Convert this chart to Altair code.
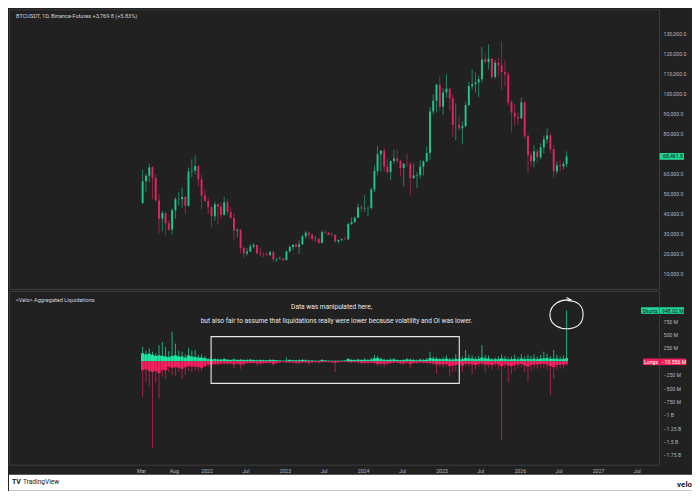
import altair as alt
import pandas as pd

# ---------------- values ----------------
# BTCUSDT candles, one per half month (1st / 16th), Mar 2021 .. Aug 2026, thousand USD
first_open_k = 45.0
high_k = [
    61.7, 60.0, 64.8, 63.5, 59.5, 49.7, 41.3, 41.0, 36.6, 42.3, 48.1, 50.5, 52.9, 48.8, 62.9, 67.0, 69.0, 64.0, 59.1, 52.0,
    47.9, 43.5, 45.8, 44.8, 45.4, 48.2, 47.2, 42.9, 40.0, 32.4, 31.9, 23.3, 22.5, 24.7, 25.2, 24.4, 22.8, 20.3, 20.5, 21.1, 21.5, 17.4, 18.4, 17.5,
    21.3, 23.9, 24.4, 25.2, 26.5, 29.2, 31.0, 30.4, 29.9, 28.5, 27.4, 31.4, 31.8, 30.4, 30.2, 29.4, 26.9, 27.5, 28.6, 35.2, 38.0, 38.4, 44.7, 44.3,
    49.0, 43.5, 52.8, 64.0, 73.8, 71.7, 72.8, 67.2, 66.4, 71.9, 71.9, 66.7, 65.0, 70.0, 65.6, 65.0, 60.6, 66.5, 66.5, 73.6, 93.2, 99.6, 105.0, 108.4,
    102.7, 109.6, 102.5, 99.5, 95.0, 88.8, 86.1, 95.8, 105.8, 112.0, 110.6, 108.9, 123.2, 120.2, 124.5, 117.6, 116.8, 117.9, 126.2, 116.4, 111.0, 96.6, 94.6, 90.5,
    97.9, 96.0, 79.5, 71.0, 74.0, 72.0, 75.0, 79.0, 82.5, 80.0, 74.0, 66.0, 66.5, 66.0, 71.0,
]
low_k = [
    45.0, 50.4, 55.5, 47.0, 46.0, 30.0, 31.0, 28.8, 31.1, 29.3, 37.3, 43.9, 42.8, 39.6, 43.3, 58.1, 59.4, 53.3, 42.0, 45.5,
    39.6, 33.0, 36.3, 34.3, 37.1, 38.8, 39.2, 37.4, 26.7, 28.0, 20.1, 17.6, 18.8, 20.8, 22.4, 19.5, 18.5, 18.1, 18.2, 18.6, 15.6, 15.5, 16.8, 16.3,
    16.5, 20.4, 21.4, 23.0, 19.6, 24.1, 27.2, 27.0, 26.0, 25.9, 24.8, 25.0, 29.7, 28.9, 28.7, 25.2, 24.9, 26.0, 26.5, 26.7, 34.1, 35.3, 37.6, 40.5,
    40.7, 38.5, 41.9, 50.6, 59.0, 60.8, 60.6, 59.6, 56.5, 64.6, 65.0, 58.4, 53.5, 63.3, 49.0, 57.2, 52.5, 57.5, 58.9, 65.5, 66.8, 89.5, 90.5, 91.3,
    89.3, 97.8, 91.2, 78.2, 76.6, 81.2, 74.5, 83.0, 93.5, 102.0, 100.4, 98.2, 105.2, 115.0, 112.0, 107.3, 107.3, 108.6, 102.0, 103.5, 94.0, 80.6, 84.0, 84.5,
    87.0, 77.0, 60.0, 63.0, 63.0, 65.0, 67.0, 70.0, 75.0, 70.0, 58.0, 59.5, 61.0, 62.0, 63.0,
]
close_k = [
    56.0, 58.8, 63.0, 57.7, 46.4, 37.3, 40.1, 35.0, 31.8, 41.5, 47.0, 47.1, 48.1, 43.8, 60.9, 61.3, 63.6, 57.0, 48.9, 46.2,
    43.1, 38.5, 44.5, 43.2, 39.3, 45.5, 40.6, 37.6, 31.3, 31.8, 22.6, 19.9, 20.8, 23.3, 24.1, 20.0, 19.7, 19.4, 19.1, 20.5, 16.9, 17.2, 17.4, 16.5,
    20.9, 23.1, 24.3, 23.1, 24.4, 28.5, 30.3, 29.2, 27.2, 27.2, 25.1, 30.5, 30.3, 29.2, 29.2, 25.9, 26.6, 27.0, 26.9, 34.6, 35.5, 37.7, 43.0, 42.3,
    42.5, 42.6, 51.9, 61.2, 69.5, 71.3, 63.4, 60.6, 66.2, 67.5, 66.2, 62.7, 64.8, 64.6, 57.6, 58.9, 59.1, 63.3, 66.0, 70.2, 91.0, 96.4, 104.3, 93.4,
    100.5, 102.4, 97.5, 84.3, 84.3, 82.5, 83.6, 94.2, 103.7, 104.6, 105.5, 107.1, 117.0, 115.8, 117.4, 108.2, 115.3, 114.0, 110.7, 109.5, 95.5, 90.4, 88.2, 87.6,
    95.5, 78.5, 69.0, 66.0, 71.0, 68.0, 73.0, 77.0, 79.0, 72.0, 61.0, 64.0, 63.5, 64.7, 68.4618,
]

# Aggregated liquidations per half month, million USD (typical level and largest day)
shorts_band_m = [
    150, 130, 140, 120, 100, 110, 100, 90, 80, 100, 110, 90, 90, 70, 110, 90, 80, 70, 70, 60,
    40, 35, 40, 35, 30, 40, 30, 25, 35, 25, 30, 25, 25, 30, 25, 20, 25, 20, 20, 25, 25, 20, 15, 10,
    15, 25, 20, 20, 20, 25, 20, 15, 15, 10, 10, 25, 15, 10, 10, 10, 10, 10, 15, 40, 25, 25, 30, 25,
    30, 25, 35, 55, 60, 40, 30, 25, 30, 35, 25, 20, 25, 35, 30, 25, 20, 30, 25, 30, 60, 50, 45, 40,
    40, 50, 35, 30, 45, 35, 40, 60, 55, 50, 40, 45, 70, 55, 50, 35, 40, 40, 55, 45, 35, 40, 45, 35,
    50, 40, 45, 40, 50, 40, 50, 55, 60, 45, 50, 50, 40, 45, 60,
]
shorts_peak_m = [
    270, 200, 240, 180, 150, 300, 360, 270, 190, 555, 330, 200, 180, 130, 250, 200, 210, 120, 130, 100,
    60, 50, 55, 45, 50, 60, 40, 35, 50, 35, 40, 35, 40, 45, 35, 30, 35, 30, 25, 45, 40, 25, 20, 15,
    72, 40, 30, 25, 40, 40, 35, 20, 20, 15, 15, 40, 25, 15, 15, 15, 15, 15, 20, 65, 40, 35, 50, 40,
    60, 40, 70, 120, 100, 70, 50, 40, 55, 60, 40, 30, 40, 65, 50, 45, 35, 50, 45, 60, 180, 90, 80, 60,
    80, 110, 60, 60, 130, 70, 90, 211, 120, 110, 80, 100, 301, 120, 110, 60, 70, 90, 130, 100, 70, 90, 120, 80,
    130, 90, 120, 100, 130, 90, 120, 181, 140, 100, 211, 120, 90, 110, 948,
]
longs_band_m = [
    170, 150, 180, 200, 180, 220, 160, 170, 100, 120, 110, 120, 140, 110, 90, 100, 100, 110, 120, 90,
    60, 60, 50, 50, 40, 40, 40, 40, 60, 40, 60, 50, 30, 30, 30, 40, 40, 30, 30, 30, 50, 30, 20, 15,
    20, 20, 20, 30, 30, 20, 20, 30, 20, 15, 20, 15, 15, 15, 20, 30, 15, 10, 10, 15, 20, 15, 20, 30,
    30, 30, 25, 30, 50, 45, 50, 40, 30, 25, 25, 35, 40, 25, 50, 30, 30, 25, 25, 30, 35, 40, 60, 55,
    60, 50, 90, 80, 70, 50, 80, 45, 50, 60, 70, 50, 40, 60, 60, 70, 50, 60, 90, 60, 80, 90, 70, 60,
    50, 80, 100, 70, 60, 60, 50, 50, 60, 90, 110, 70, 60, 60, 50,
]
longs_peak_m = [
    663, 392, 470, 1627, 400, 693, 290, 330, 200, 260, 270, 200, 330, 250, 180, 200, 170, 190, 180, 120,
    110, 120, 80, 80, 70, 60, 60, 70, 130, 70, 140, 90, 50, 50, 40, 80, 70, 50, 40, 40, 90, 50, 30, 25,
    30, 35, 40, 50, 60, 30, 35, 60, 35, 25, 40, 25, 20, 20, 20, 200, 25, 15, 15, 20, 35, 25, 40, 60,
    50, 60, 40, 55, 90, 80, 110, 70, 50, 40, 40, 60, 70, 40, 120, 50, 50, 40, 40, 50, 60, 70, 230, 100,
    120, 100, 271, 200, 180, 100, 200, 90, 100, 241, 150, 110, 90, 211, 120, 160, 100, 150, 1477, 130, 392, 240, 180, 120,
    120, 200, 392, 180, 150, 140, 120, 130, 150, 633, 332, 160, 130, 140, 90,
]

# 70,000.0 / 1 B / 0 sit under the last-value boxes, as in the picture
price_ticks = [10000, 20000, 30000, 40000, 50000, 60000, 80000, 90000, 100000, 110000, 120000, 130000]
liq_ticks = [750, 500, 250, -250, -500, -750, -1000, -1250, -1500, -1750]
x_ticks = [(2021, 3), (2021, 8), (2022, 1), (2022, 7), (2023, 1), (2023, 7), (2024, 1), (2024, 7),
           (2025, 1), (2025, 7), (2026, 1), (2026, 7), (2027, 1), (2027, 7)]

title_text = "BTCUSDT, 1D, Binance-Futures  +3,769.8 (+5.83%)"
liq_title = "<Velo> Aggregated Liquidations"
note_1 = "Data was manipulated here,"
note_2 = "but also fair to assume that liquidations really were lower because volatility and OI was lower."
last_price = 68461.8
last_price_label = "68,461.8"
shorts_label = "948.02 M"
longs_label = "\u221210.556 M"
box_dates = ["2022-01-22", "2025-03-25"]
box_values = [461, -412]
circle_value = 870

# ---------------- table ----------------
starts = []
for yy in range(2021, 2027):
    for mm in range(1, 13):
        for dd in (1, 16):
            t = pd.Timestamp(year=yy, month=mm, day=dd)
            if pd.Timestamp("2021-03-01") <= t <= pd.Timestamp("2026-08-01"):
                starts.append(t)
ends = starts[1:] + [pd.Timestamp("2026-08-14")]
n = len(starts)
assert all(len(a) == n for a in [high_k, low_k, close_k, shorts_band_m, shorts_peak_m, longs_band_m, longs_peak_m])

opens_k = [first_open_k] + close_k[:-1]
fmt = "%Y-%m-%dT%H:%M:%SZ"
df = pd.DataFrame({
    "start": [s.strftime(fmt) for s in starts],
    "end": [e.strftime(fmt) for e in ends],
    "mid": [(s + (e - s) / 2).strftime(fmt) for s, e in zip(starts, ends)],
    "open": [v * 1000 for v in opens_k],
    "high": [v * 1000 for v in high_k],
    "low": [v * 1000 for v in low_k],
    "close": [v * 1000 for v in close_k],
    "s_band": shorts_band_m,
    "s_peak": shorts_peak_m,
    "l_band": [-v for v in longs_band_m],
    "l_peak": [-v for v in longs_peak_m],
})
df["dir"] = ["up" if c >= o else "down" for o, c in zip(df["open"], df["close"])]
last_mid = df["mid"].iloc[-1]

# ---------------- style ----------------
BG = "#212121"
UP = "#1fc793"
DOWN = "#e2265d"
S_COL = "#1ee6a5"
L_COL = "#f2215f"
TXT = "#d1d4dc"
FONT = "Roboto"
W = 651
H1 = 280
H2 = 174

xscale = alt.Scale(type="utc",
                   domain=[alt.DateTime(year=2019, month=6, date=24, utc=True),
                           alt.DateTime(year=2027, month=10, date=13, utc=True)])
color_scale = alt.Scale(domain=["up", "down"], range=[UP, DOWN])
one = pd.DataFrame({"k": [0]})

# ---------------- price panel ----------------
pscale = alt.Scale(domain=[2100, 142100], nice=False, zero=False)
paxis = alt.Axis(orient="right", values=price_ticks, format=",.1f", ticks=False, domain=False,
                 grid=False, title=None, labelFontSize=5.2, labelColor="#b2b5be", labelFont=FONT,
                 labelPadding=4, labelOverlap=False)

base = alt.Chart(df)
wick = base.mark_rule(strokeWidth=0.6).encode(
    x=alt.X("mid:T", scale=xscale, axis=None),
    y=alt.Y("low:Q", scale=pscale, axis=paxis),
    y2="high:Q",
    color=alt.Color("dir:N", scale=color_scale, legend=None),
)
body = base.mark_rule(strokeWidth=1.9, strokeCap="butt").encode(
    x=alt.X("mid:T", scale=xscale, axis=None),
    y=alt.Y("open:Q", scale=pscale, axis=paxis),
    y2="close:Q",
    color=alt.Color("dir:N", scale=color_scale, legend=None),
)
ptitle = alt.Chart(one).mark_text(text=title_text, align="left", baseline="middle", fontSize=5.6,
                                  font=FONT, color=TXT).encode(x=alt.value(7), y=alt.value(7))
pbox = alt.Chart(one).mark_rect(color="#22d494").encode(
    x=alt.value(W + 0.5), x2=alt.value(W + 25),
    y=alt.Y(datum=last_price + 1700, scale=pscale, axis=paxis), y2=alt.datum(last_price - 1700))
ptext = alt.Chart(one).mark_text(text=last_price_label, align="left", baseline="middle", fontSize=5.2,
                                 font=FONT, color="#111111").encode(
    x=alt.value(W + 4), y=alt.Y(datum=last_price, scale=pscale, axis=paxis))

top = alt.layer(wick, body, ptitle, pbox, ptext).properties(width=W, height=H1)

# ---------------- liquidation panel ----------------
lscale = alt.Scale(domain=[-1931, 1314], nice=False, zero=False)
lexpr = ("datum.value == 0 ? '' : (datum.value < 0 ? '\u2212' : '') + "
         "(abs(datum.value) >= 1000 ? (abs(datum.value) / 1000) + ' B' : abs(datum.value) + ' M')")
laxis = alt.Axis(orient="right", values=liq_ticks, labelExpr=lexpr, ticks=False, domain=False,
                 grid=False, title=None, labelFontSize=5.2, labelColor="#b2b5be", labelFont=FONT,
                 labelPadding=4, labelOverlap=False)
xlabel = ("utcFormat(datum.value, '%m') == '01' ? utcFormat(datum.value, '%Y') : "
          "utcFormat(datum.value, '%b')")
xaxis = alt.Axis(values=[alt.DateTime(year=yy, month=mm, date=1, utc=True) for yy, mm in x_ticks],
                 labelExpr=xlabel, ticks=False, domain=False, grid=False, title=None,
                 labelFontSize=5.2, labelColor="#b2b5be", labelFont=FONT, labelPadding=4,
                 labelOverlap=False)

def lx(field):
    return alt.X(field, scale=xscale, axis=xaxis)

def ly(field):
    return alt.Y(field, scale=lscale, axis=laxis)

sband = base.mark_bar(color=S_COL).encode(x=lx("start:T"), x2="end:T", y=ly("s_band:Q"), y2=alt.datum(0))
lband = base.mark_bar(color=L_COL).encode(x=lx("start:T"), x2="end:T", y=ly("l_band:Q"), y2=alt.datum(0))
speak = base.mark_rule(color=S_COL, strokeWidth=0.9, opacity=0.8).encode(
    x=lx("mid:T"), y=ly("s_peak:Q"), y2=alt.datum(0))
lpeak = base.mark_rule(color=L_COL, strokeWidth=0.9, opacity=0.7).encode(
    x=lx("mid:T"), y=ly("l_peak:Q"), y2=alt.datum(0))

box_df = pd.DataFrame({"x1": [box_dates[0]], "x2": [box_dates[1]], "y1": [box_values[0]], "y2": [box_values[1]]})
box = alt.Chart(box_df).mark_rect(filled=False, color="#e6e6e6", strokeWidth=1.1).encode(
    x=lx("x1:T"), x2="x2:T", y=ly("y1:Q"), y2="y2:Q")

circle_path = ("M0.28,-0.86 C-0.35,-0.95 -0.98,-0.6 -0.98,0.02 C-0.97,0.62 -0.4,0.86 0.18,0.82 "
               "C0.74,0.78 1.0,0.4 0.97,-0.12 C0.94,-0.56 0.58,-0.86 0.06,-0.82 M0.0,-1.02 L0.3,-0.86")
circ_df = pd.DataFrame({"d": [last_mid], "v": [circle_value]})
circ = alt.Chart(circ_df).mark_point(shape=circle_path, size=1156, filled=False, color="#f2f2f2",
                                     strokeWidth=1.1, opacity=1).encode(x=lx("d:T"), y=ly("v:Q"))

ltitle = alt.Chart(one).mark_text(text=liq_title, align="left", baseline="middle", fontSize=5.6,
                                  font=FONT, color=TXT).encode(x=alt.value(7), y=alt.value(9))
n1 = alt.Chart(one).mark_text(text=note_1, align="center", baseline="middle", fontSize=6.6,
                              font=FONT, color="#e8e8e8").encode(x=alt.value(323), y=alt.value(16.5))
n2 = alt.Chart(one).mark_text(text=note_2, align="center", baseline="middle", fontSize=6.6,
                              font=FONT, color="#e8e8e8").encode(x=alt.value(328), y=alt.value(30.5))

def ld(v):
    return alt.Y(datum=v, scale=lscale, axis=laxis)

sbox1 = alt.Chart(one).mark_rect(color="#22d494").encode(
    x=alt.value(W - 18), x2=alt.value(W), y=ld(948 + 62), y2=alt.datum(948 - 62))
sbox2 = alt.Chart(one).mark_rect(color="#22d494").encode(
    x=alt.value(W + 0.5), x2=alt.value(W + 25), y=ld(948 + 62), y2=alt.datum(948 - 62))
stext1 = alt.Chart(one).mark_text(text="Shorts", align="center", baseline="middle", fontSize=5.2,
                                  font=FONT, color="#111111").encode(x=alt.value(W - 9), y=ld(948))
stext2 = alt.Chart(one).mark_text(text=shorts_label, align="left", baseline="middle", fontSize=5.2,
                                  font=FONT, color="#111111").encode(x=alt.value(W + 3), y=ld(948))
lbox1 = alt.Chart(one).mark_rect(color="#f21e5c").encode(
    x=alt.value(W - 16), x2=alt.value(W), y=ld(-10.556 + 62), y2=alt.datum(-10.556 - 62))
lbox2 = alt.Chart(one).mark_rect(color="#f21e5c").encode(
    x=alt.value(W + 0.5), x2=alt.value(W + 27), y=ld(-10.556 + 62), y2=alt.datum(-10.556 - 62))
ltext1 = alt.Chart(one).mark_text(text="Longs", align="center", baseline="middle", fontSize=5.2,
                                  font=FONT, color="#ffffff").encode(x=alt.value(W - 8), y=ld(-10.556))
ltext2 = alt.Chart(one).mark_text(text=longs_label, align="left", baseline="middle", fontSize=5.2,
                                  font=FONT, color="#ffffff").encode(x=alt.value(W + 2.5), y=ld(-10.556))

bottom = alt.layer(sband, lband, speak, lpeak, box, circ, ltitle, n1, n2,
                   sbox1, sbox2, stext1, stext2, lbox1, lbox2, ltext1, ltext2).properties(width=W, height=H2)

# ---------------- footer ----------------
tv_logo = alt.Chart(one).mark_text(text="TV", align="left", baseline="middle", fontSize=7, fontWeight="bold",
                                   font=FONT, color="#131722").encode(x=alt.value(3), y=alt.value(7.5))
tv_text = alt.Chart(one).mark_text(text="TradingView", align="left", baseline="middle", fontSize=6.6,
                                   font=FONT, color="#131722").encode(x=alt.value(14), y=alt.value(7.5))
velo = alt.Chart(one).mark_text(text="velo", align="right", baseline="middle", fontSize=8, fontWeight="bold",
                                font=FONT, color="#1a1a1a").encode(x=alt.value(684), y=alt.value(10))
footer = alt.layer(tv_logo, tv_text, velo).properties(
    width=684, height=16, view=alt.ViewBackground(fill="white", stroke=None))

chart = alt.vconcat(top, bottom, footer, spacing=0).properties(
    background=BG, padding=0
).configure_view(stroke="#3c3c3c", strokeWidth=1).configure_axis(labelOverlap=False)

chart.save("out.html", embed_options={"renderer": "svg", "actions": False})
